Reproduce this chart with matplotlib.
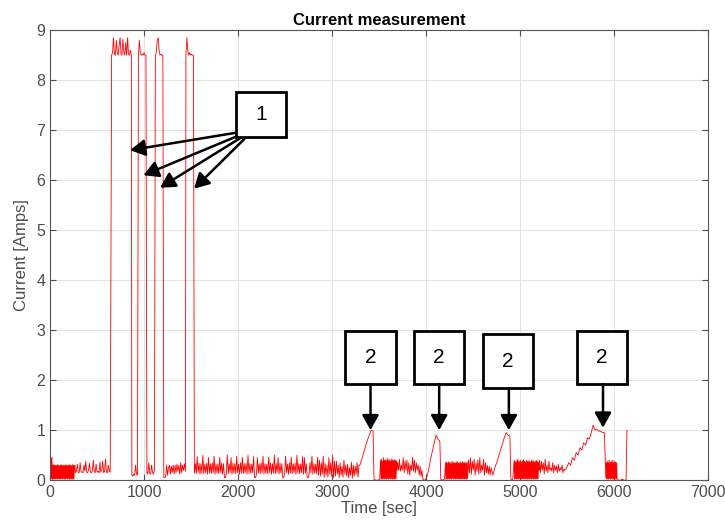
import numpy as np
import matplotlib
matplotlib.use("Agg")
import matplotlib.pyplot as plt
from matplotlib.patches import Rectangle

plt.rcParams['font.family'] = ['Liberation Sans', 'DejaVu Sans']

# ---- measured current in centi-amps, one list per stretch of the log ----
idle_0a = [45, 2, 44, 3, 46, 2, 30, 2, 31, 3, 30, 2, 29, 3, 30, 2, 31, 2, 30, 3, 29, 2, 30, 2, 31, 3, 30,
           2, 30, 3, 29, 2, 31, 2, 30, 3, 30, 2, 29, 3, 31, 2, 30, 2, 30, 3, 29, 2, 31, 3, 30, 2, 30, 28]
idle_0b = [15, 18, 32, 16, 15, 35, 17, 16, 15, 30, 18, 38, 16, 15, 20, 34, 16, 15, 18, 40,
           17, 15, 32, 16, 18, 15, 36, 16, 20, 38, 15, 17, 42, 16, 15, 30, 18, 16]
pulse_1 = [850, 855, 885, 852, 850, 880, 855, 850, 870, 885, 852,
           850, 882, 856, 850, 875, 850, 885, 852, 850, 860, 850]
gap_1 = [10, 8, 12, 10, 30, 12, 10]
pulse_2 = [850, 880, 855, 850, 852, 850, 855, 850, 850]
gap_2 = [15, 12, 35, 14, 12, 30, 15, 12, 20]
pulse_3 = [850, 855, 880, 885, 860, 850, 852, 850, 850]
gap_3 = [5, 5, 8, 30, 10, 25, 30, 12, 28, 15, 30, 12, 30, 15, 32, 18, 30, 12, 35, 15, 30, 20, 33, 18]
pulse_4 = [850, 885, 860, 850, 855, 850, 852, 850, 850]
idle_1 = [14, 33, 13, 47, 15, 34, 12, 33, 14, 50,
          13, 32, 15, 34, 12, 45, 14, 33, 13, 35,
          15, 48, 12, 33, 14, 32, 13, 46, 15, 34,
          12, 33, 5, 5, 14, 50, 13, 33, 15, 45,
          12, 34, 14, 33, 13, 48, 15, 32, 12, 35,
          14, 46, 13, 33, 15, 34, 12, 50, 14, 33,
          13, 32, 15, 47, 5, 5, 12, 45, 14, 33,
          13, 35, 15, 48, 12, 33, 14, 32, 13, 46,
          15, 34, 12, 33, 14, 50, 13, 33, 15, 45,
          12, 34, 14, 33, 5, 5, 13, 48, 15, 32,
          12, 35, 14, 46, 13, 33, 15, 34, 12, 50,
          14, 33, 13, 32, 15, 47, 12, 45, 14, 33,
          5, 5, 13, 35, 15, 48, 12, 33, 14, 32,
          13, 46, 10, 40, 8, 35, 12, 48, 5, 33,
          10, 30, 6, 45, 12, 35, 8, 50, 5, 38]
idle_2 = [8, 38, 12, 30, 5, 35, 10, 28, 6, 40, 12, 30, 8, 32, 5, 25, 10, 36, 4, 30, 8, 28, 12, 35, 6, 30]
ramp_1 = [30, 42, 55, 68, 80, 90, 100, 98]
zero_1 = [2, 0, 0, 2]
idle_3a = [40, 2, 42, 3, 38, 2, 45, 3, 40, 2, 41, 3, 39, 2, 44, 3, 40, 2,
           42, 3, 38, 2, 40, 3, 43, 2, 40, 3, 39, 2, 41, 3, 40, 2, 38, 20]
idle_3b = [35, 20, 42, 18, 30, 20, 45, 15, 38, 20, 40, 12, 35, 10,
           30, 20, 46, 18, 40, 15, 35, 20, 30, 10, 28, 8, 20]
zero_2 = [2, 0]
ramp_2 = [5, 20, 40, 58, 75, 90, 82, 78]
zero_3 = [2, 0, 2]
idle_4a = [35, 2, 36, 3, 34, 2, 37, 3, 35, 2, 36, 3, 33, 2, 38, 3, 35, 2, 36, 3, 34, 2, 35, 3, 37,
           2, 36, 3, 34, 2, 35, 3, 36, 2, 34, 3, 37, 2, 35, 3, 36, 2, 34, 3, 35, 2, 36, 3, 20]
idle_4b = [40, 15, 45, 12, 38, 20, 42, 10, 35, 18, 40, 12, 45,
           15, 30, 20, 42, 10, 35, 15, 30, 12, 28, 10, 25]
ramp_3 = [10, 25, 35, 48, 60, 72, 85, 95, 90, 88]
zero_4 = [2, 0]
idle_5a = [40, 2, 38, 3, 36, 2, 40, 3, 42, 2, 37, 3, 38, 2, 40, 3, 36, 2, 39, 3, 41, 2, 38, 3, 36, 2, 40,
           3, 38, 2, 37, 3, 40, 2, 36, 3, 38, 2, 41, 3, 37, 2, 39, 3, 36, 2, 38, 3, 40, 2, 37, 3, 35, 20]
idle_5b = [40, 15, 38, 20, 35, 12, 42, 18, 30, 15, 38, 20, 25, 18,
           35, 15, 30, 20, 28, 15, 32, 18, 25, 20, 30, 15, 22, 20]
ramp_4 = [25, 35, 30, 45, 40, 55, 50, 65, 60, 75, 70, 85, 82, 95, 110]
plateau = [100, 102, 98, 98, 95, 95]
idle_6 = [5, 35, 2, 38, 3, 36, 2, 40, 3, 35, 2, 38, 3, 36, 2, 40, 3, 35, 2, 38, 3, 36, 2, 35, 3, 2]
zero_5 = [0, 0, 2, 0, 0]
last_spike = [100]

# (start time [sec], sample step [sec], values)
segments = [(0, 5, idle_0a), (270, 10, idle_0b), (655, 10, pulse_1), (870, 10, gap_1),
            (940, 10, pulse_2), (1030, 10, gap_2), (1120, 10, pulse_3), (1210, 10, gap_3),
            (1445, 10, pulse_4), (1535, 10, idle_1), (3035, 10, idle_2), (3295, 20, ramp_1),
            (3445, 20, zero_1), (3515, 5, idle_3a), (3695, 10, idle_3b), (3965, 20, zero_2),
            (4005, 20, ramp_2), (4155, 20, zero_3), (4205, 5, idle_4a), (4450, 10, idle_4b),
            (4710, 20, ramp_3), (4900, 20, zero_4), (4935, 5, idle_5a), (5205, 10, idle_5b),
            (5495, 20, ramp_4), (5795, 20, plateau), (5910, 5, idle_6), (6045, 20, zero_5),
            (6135, 20, last_spike)]

time = np.concatenate([t0 + dt * np.arange(len(v)) for t0, dt, v in segments])
current = np.concatenate([v for _, _, v in segments]) / 100.0

# annotation boxes: (x_left, x_right, y_bottom, y_top), label
boxes = [((1979, 2511, 6.86, 7.76), '1'),
         ((3138, 3681, 1.92, 2.98), '2'),
         ((3872, 4404, 1.92, 2.98), '2'),
         ((4606, 5138, 1.84, 2.92), '2'),
         ((5606, 6138, 1.92, 2.98), '2')]
# arrows: (start, tip)
arrows = [((1979, 6.95), (851, 6.60)),
          ((1989, 6.88), (993, 6.10)),
          ((2021, 6.84), (1170, 5.85)),
          ((2064, 6.82), (1532, 5.83)),
          ((3408, 1.92), (3408, 1.00)),
          ((4138, 1.92), (4138, 1.00)),
          ((4879, 1.84), (4879, 1.00)),
          ((5880, 1.92), (5880, 1.05))]

fig = plt.figure(figsize=(7.25, 5.3), dpi=100)
ax = fig.add_axes([0.069, 0.094, 0.908, 0.849])

ax.plot(time, current, color='#ff0000', lw=0.6)

ax.set_xlim(0, 7000)
ax.set_ylim(0, 9)
ax.set_xticks(np.arange(0, 7001, 1000))
ax.set_yticks(np.arange(0, 10, 1))
ax.grid(True, color='#e3e3e3', lw=0.7)
ax.set_axisbelow(True)
ax.tick_params(direction='in', top=True, right=True, labelsize=11.5,
               colors='#4d4d4d', length=4)
for s in ax.spines.values():
    s.set_color('#555555')
    s.set_linewidth(0.8)

ax.set_title('Current measurement', fontsize=12, fontweight='bold', pad=4)
ax.set_xlabel('Time [sec]', fontsize=12, color='#4d4d4d', labelpad=1)
ax.set_ylabel('Current [Amps]', fontsize=12, color='#4d4d4d', labelpad=5)

for (x0, x1, y0, y1), lab in boxes:
    ax.add_patch(Rectangle((x0, y0), x1 - x0, y1 - y0, facecolor='white',
                           edgecolor='black', lw=2, zorder=5))
    ax.text((x0 + x1) / 2, (y0 + y1) / 2, lab, ha='center', va='center',
            fontsize=15, zorder=6)

for start, tip in arrows:
    ax.annotate('', xy=tip, xytext=start, zorder=6,
                arrowprops=dict(arrowstyle='-|>,head_length=0.45,head_width=0.25',
                                mutation_scale=20, lw=1.8, color='black',
                                shrinkA=0, shrinkB=0))

fig.savefig('out.png', dpi=100)
